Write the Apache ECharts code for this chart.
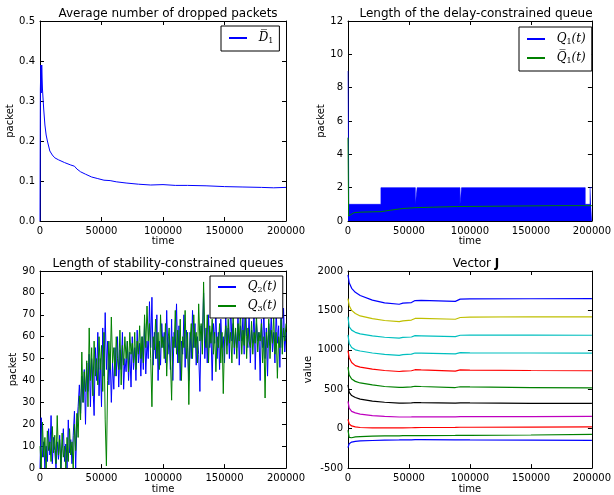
<!DOCTYPE html>
<html>
<head>
<meta charset="utf-8">
<script src="https://cdn.jsdelivr.net/npm/echarts@6/dist/echarts.min.js"></script>
<style>html,body{margin:0;padding:0;background:#fff}#c{width:614px;height:495px}</style>
</head>
<body>
<div id="c"></div>
<script>
// ---------- data ----------
const d1Times = [0,300,700,1000,1400,2000,3000,4000,5000,6000,8000,10000,12000,15000,20000,25000,28000,30000,33000,37000,42000,47000,52000,57000,62000,70000,80000,90000,100000,110000,120000,135000,150000,165000,180000,190000,200000];
const d1Values = [0,0.33,0.39,0.32,0.39,0.33,0.28,0.24,0.215,0.2,0.175,0.165,0.158,0.153,0.146,0.14,0.137,0.13,0.123,0.117,0.11,0.106,0.102,0.101,0.098,0.095,0.092,0.09,0.091,0.089,0.089,0.088,0.086,0.085,0.084,0.083,0.084];

// Q1(t): upper envelope of the fast 0..max oscillation
const q1Times = [0,700,27000,55200,56700,91800,93100,194500,198500,200000];
const q1Values = [9,1,2,1,2,1,2,1,2,2];
const q1barTimes = [0,500,2000,5000,10000,20000,27000,35000,45000,55000,70000,90000,110000,140000,170000,200000];
const q1barValues = [5,0.3,0.4,0.5,0.53,0.55,0.56,0.65,0.75,0.8,0.83,0.87,0.88,0.9,0.92,0.92];

const q23Step = 1000;
const q2Values = [0,23,5,12,0,10,3,18,6,24,2,14,8,0,12,4,15,0,9,18,3,11,0,22,7,13,2,15,26,0,20,
28,38,25,42,30,45,20,48,35,52,28,50,38,24,55,40,62,33,50,28,64,42,71,45,58,38,52,30,48,36,55,42,60,37,54,45,62,36,50,44,58,40,53,37,60,45,55,40,63,48,57,42,60,45,66,43,58,50,76,55,
78,47,62,50,70,40,58,47,66,55,62,48,72,52,60,45,68,40,62,55,75,48,65,40,58,52,70,46,63,55,40,62,50,72,55,66,47,60,52,35,65,58,80,50,64,48,70,55,62,40,66,57,72,50,62,45,68,55,60,48,
70,56,64,50,75,58,66,52,62,55,71,47,65,58,69,52,80,60,55,70,48,63,57,72,45,66,58,62,40,68,55,73,50,64,42,66,56,70,53,62,48,72,57,65,46,70,55,73,53,62];
const q3Values = [10,0,21,5,14,0,17,8,12,3,19,7,15,2,24,6,13,0,16,5,10,0,14,3,18,6,12,0,20,8,25,
14,33,22,53,30,44,35,49,28,64,40,55,33,58,42,50,38,60,45,56,35,62,22,1,40,58,45,69,48,55,42,60,50,45,63,38,56,47,60,50,58,44,62,52,57,48,62,45,58,52,65,50,60,48,70,55,74,58,66,50,
28,60,54,68,50,62,45,70,55,60,50,66,42,58,64,50,31,60,55,72,52,63,48,68,40,60,55,72,50,62,29,58,66,50,70,55,62,48,75,58,66,52,85,60,55,70,48,65,57,68,52,62,44,60,55,66,48,62,34,58,
65,52,68,57,62,48,70,55,64,50,66,58,72,52,63,56,70,50,64,58,55,67,52,62,57,70,53,62,58,66,48,60,32,62,55,68,50,63,57,70,52,62,41,60,55,68,52,64,58,66];

const jTimes = [0,1000,3000,6000,10000,20000,30000,42000,45000,52000,55000,60000,88000,92000,100000,150000,200000];
const j1 = [1950,1850,1780,1730,1690,1630,1595,1578,1592,1600,1625,1628,1615,1643,1646,1648,1650];
const j2 = [1650,1560,1500,1460,1430,1395,1372,1358,1368,1378,1398,1398,1388,1410,1414,1420,1418];
const j3 = [1420,1290,1250,1222,1203,1178,1160,1148,1158,1163,1180,1178,1168,1185,1187,1187,1185];
const j4 = [1190,1080,1030,1000,985,960,943,930,940,945,960,958,948,965,962,960,958];
const j5 = [990,900,840,800,780,755,738,725,730,735,748,745,730,745,742,738,735];
const j6 = [780,680,630,600,580,555,535,523,525,530,538,535,522,532,530,522,518];
const j7 = [555,460,420,395,375,350,335,325,325,327,332,330,325,328,327,322,320];
const j8 = [345,260,220,200,185,165,155,148,148,149,150,150,150,152,152,154,155];
const j9 = [118,60,35,22,15,10,10,10,11,12,14,15,16,18,18,20,22];
const j10 = [-20,-110,-115,-105,-100,-95,-92,-90,-89,-89,-88,-88,-86,-85,-85,-80,-72];
const j11 = [-240,-190,-170,-160,-155,-150,-145,-143,-142,-141,-140,-140,-141,-142,-143,-145,-148];
const jSeries = [j1,j2,j3,j4,j5,j6,j7,j8,j9,j10,j11];

const titles = ['Average number of dropped packets','Length of the delay-constrained queue','Length of stability-constrained queues','Vector {b|J}'];

// ---------- styles ----------
const jColors = ['#0000ff','#bfbf00','#00bfbf','#00bfbf','#ff0000','#008000','#000000','#bf00bf','#ff0000','#008000','#0000ff'];
const grids = [
  {left:40, top:21, width:246, height:200},
  {left:348, top:21, width:246, height:200},
  {left:40, top:271, width:246, height:200},
  {left:348, top:271, width:246, height:200}
];
const yCfg = [
  {min:0,max:0.5,interval:0.1,name:'packet',gap:23,fmt:v=>v.toFixed(1)},
  {min:0,max:12,interval:2,name:'packet',gap:18,fmt:v=>String(v)},
  {min:0,max:90,interval:10,name:'packet',gap:17,fmt:v=>String(v)},
  {min:-500,max:2000,interval:500,name:'value',gap:30,fmt:v=>String(v)}
];
const FONT = 'DejaVu Sans';
const pair = (ts, vs) => ts.map((t,i)=>[t, vs[i]]);

const xAxes = [], yAxes = [];
grids.forEach((g,i)=>{
  const base = {type:'value', gridIndex:i, min:0, max:200000, interval:50000,
    axisLine:{show:true,onZero:false,lineStyle:{color:'#000',width:1}},
    axisTick:{show:true,inside:true,length:4,lineStyle:{color:'#000'}},
    splitLine:{show:false}};
  xAxes.push(Object.assign({}, base, {position:'bottom',
    axisLabel:{color:'#000',fontSize:10,fontFamily:FONT,margin:5,formatter:v=>String(v)},
    name:'time', nameLocation:'middle', nameGap:14, nameTextStyle:{color:'#000',fontSize:10,fontFamily:FONT}}));
  xAxes.push(Object.assign({}, base, {position:'top', axisLabel:{show:false}}));
  const c = yCfg[i];
  const yb = {type:'value', gridIndex:i, min:c.min, max:c.max, interval:c.interval,
    axisLine:{show:true,onZero:false,lineStyle:{color:'#000',width:1}},
    axisTick:{show:true,inside:true,length:4,lineStyle:{color:'#000'}},
    splitLine:{show:false}};
  yAxes.push(Object.assign({}, yb, {position:'left',
    axisLabel:{color:'#000',fontSize:10,fontFamily:FONT,margin:5,formatter:c.fmt},
    name:c.name, nameLocation:'middle', nameGap:c.gap, nameTextStyle:{color:'#000',fontSize:10,fontFamily:FONT}}));
  yAxes.push(Object.assign({}, yb, {position:'right', axisLabel:{show:false}}));
});

const line = (name, gi, data, color, extra) => Object.assign({
  type:'line', name, xAxisIndex:gi*2, yAxisIndex:gi*2, data,
  showSymbol:false, symbol:'none', animation:false,
  lineStyle:{color, width:1}, itemStyle:{color}
}, extra||{});

const q23Times = q2Values.map((_,i)=>i*q23Step);

const series = [
  line('D1', 0, pair(d1Times,d1Values), '#0000ff'),
  line('Q1', 1, pair(q1Times,q1Values), '#0000ff', {step:'end', lineStyle:{width:0.6,color:'#0000ff'}, areaStyle:{color:'#0000ff',opacity:1}}),
  line('Q1bar', 1, pair(q1barTimes,q1barValues), '#008000'),
  line('Q2', 2, pair(q23Times,q2Values), '#0000ff'),
  line('Q3', 2, pair(q23Times,q3Values), '#008000')
];
jSeries.forEach((arr,k)=>series.push(line('J'+(k+1), 3, pair(jTimes,arr), jColors[k], {lineStyle:{color:jColors[k],width:1.2}})));

const legendLabels = {
  D1:'{i|D\u0305}{s|1}',
  Q1:'{i|Q}{s|1}{i|(t)}',
  Q1bar:'{i|Q\u0305}{s|1}{i|(t)}',
  Q2:'{i|Q}{s|2}{i|(t)}',
  Q3:'{i|Q}{s|3}{i|(t)}'
};
const legRich = {
  i:{fontFamily:'DejaVu Serif',fontStyle:'italic',fontSize:12,color:'#000'},
  s:{fontFamily:'DejaVu Serif',fontSize:8,color:'#000',padding:[6,0,0,0]}
};
const mkLegend = (data,left,top,pad,gap) => ({
  data, left, top, orient:'vertical', selectedMode:false,
  backgroundColor:'#fff', borderColor:'#000', borderWidth:1, borderRadius:0,
  padding:pad, itemGap:gap, itemWidth:18, itemHeight:2, icon:'rect',
  formatter:n=>'  '+legendLabels[n],
  textStyle:{rich:legRich, fontSize:12}
});

const option = {
  backgroundColor:'#fff',
  animation:false,
  title: titles.map((t,i)=>({
    text:t, left:grids[i].left+grids[i].width/2, top:grids[i].top-18, textAlign:'center',
    textStyle:{fontFamily:FONT,fontSize:12,fontWeight:'normal',color:'#000',
      rich:{b:{fontFamily:FONT,fontWeight:'bold',fontSize:12,color:'#000'}}}
  })),
  grid: grids,
  xAxis: xAxes,
  yAxis: yAxes,
  legend: [
    mkLegend(['D1'],221,26,[6,6,6,8],6),
    mkLegend(['Q1','Q1bar'],519,27,[6,6,6,8],6),
    mkLegend(['Q2','Q3'],210,276,[5,6,5,8],6)
  ],
  series
};
echarts.init(document.getElementById('c')).setOption(option);
</script>
</body>
</html>
